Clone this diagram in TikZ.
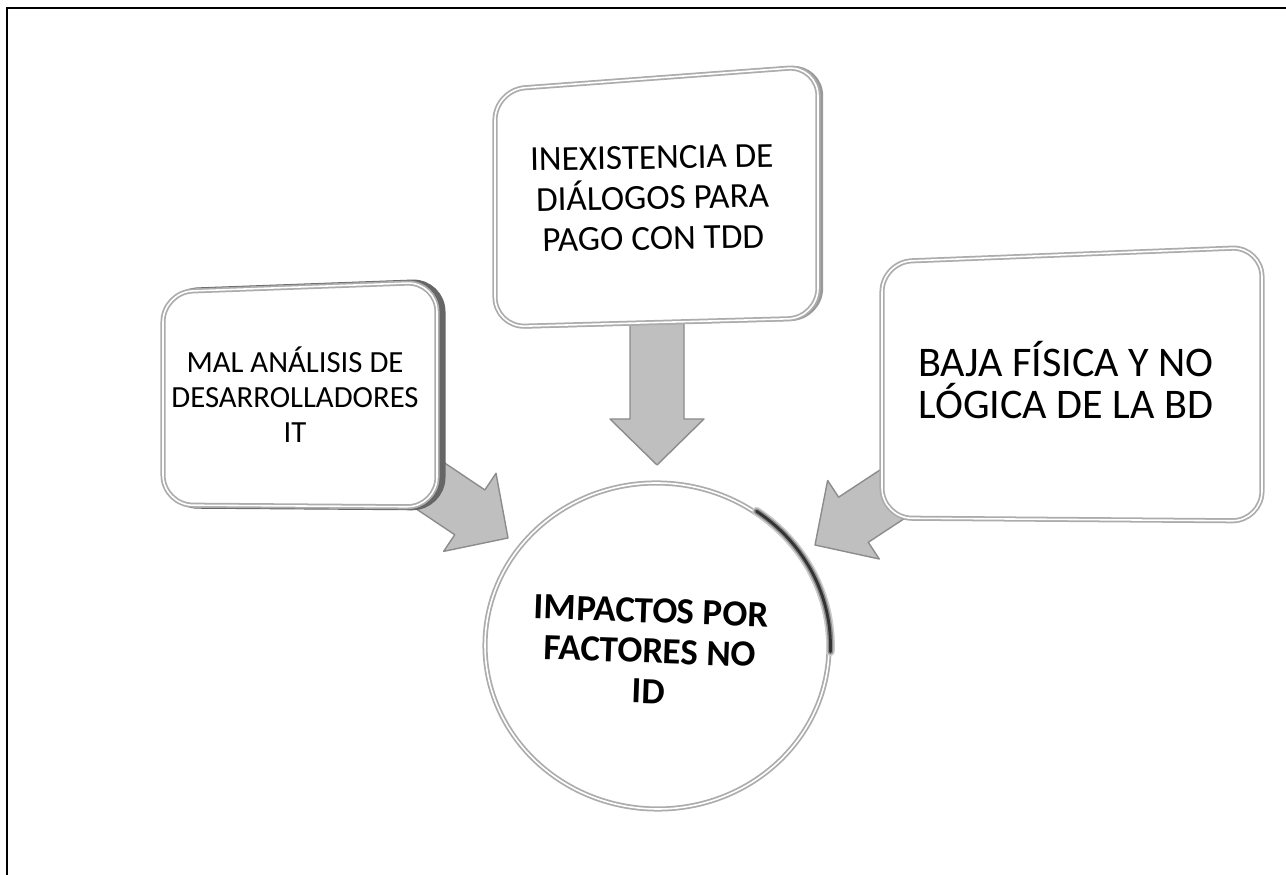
\documentclass[tikz,border=0pt]{standalone}
\usepackage{fontspec}
\setmainfont{Carlito}
\usetikzlibrary{calc,shapes.geometric}

\newcommand{\malbox}{(3.26,11.66) -- (8.74,11.86) -- (8.74,7.36) -- (3.26,7.40) -- cycle}
\newcommand{\inexbox}{(9.90,15.70) -- (16.36,16.18) -- (16.36,11.14) -- (9.90,10.96) -- cycle}
\newcommand{\bajabox}{(17.64,12.26) -- (25.24,12.56) -- (25.24,7.08) -- (17.64,7.14) -- cycle}

\begin{document}
\begin{tikzpicture}
	\path [use as bounding box] (0,0) rectangle (25.72,17.5);
	\tikzstyle{boxline} = [draw=gray!65, double=white, double distance=0.9pt, line width=1pt, fill=white, rounded corners=0.6cm]
	\tikzstyle{boxshade} = [draw=black!60, line width=4pt, rounded corners=0.6cm]
	\tikzstyle{boxtext} = [align=center, inner sep=0pt]
	\tikzstyle{bigarrow} = [draw=gray!90, fill=gray!50, line width=0.8pt, line join=round,
		to path={let \p1 = ($(\tikztotarget)!0.92cm!(\tikztostart)$) in
			($(\tikztostart)!0.54cm!90:(\tikztotarget)$) -- ($(\p1)!0.54cm!90:(\tikztotarget)$)
			-- ($(\p1)!0.94cm!90:(\tikztotarget)$) -- (\tikztotarget)
			-- ($(\p1)!0.94cm!-90:(\tikztotarget)$) -- ($(\p1)!0.54cm!-90:(\tikztotarget)$)
			-- ($(\tikztostart)!0.54cm!-90:(\tikztotarget)$) -- cycle}]
	% frame
	\draw[line width=1.4pt] (0.14,0) -- (0.14,17.34) -- (25.72,17.34);
	\coordinate (L) at (5.90,9.60);
	\coordinate (T) at (13.05,13.54);
	\coordinate (R) at (21.32,9.90);
	\coordinate (tipL) at (10.16,6.74);
	\coordinate (tipT) at (13.14,8.20);
	\coordinate (tipR) at (16.30,6.60);
	\node[ellipse, boxline, minimum width=6.88cm, minimum height=6.52cm, rotate=-2] (C) at (13.14,4.58) {};
	% dark rim on the upper right of the circle
	\foreach \w/\c in {5pt/black!20, 3.2pt/black!45, 1.6pt/black!80}
		\draw[\c, line width=\w, line cap=round] ([shift={(-2:3.47cm and 3.29cm)}]C.center)
			arc[start angle=-2, end angle=55, x radius=3.47cm, y radius=3.29cm];
	\node[boxtext, font=\bfseries\fontsize{21}{23}\selectfont, rotate=-2] (impact) at (13.00,4.48) {IMPACTOS POR\\FACTORES NO\\ID};
	% arrows
	\draw[bigarrow] (L) to (tipL);
	\draw[bigarrow] (tipT |- T) to (tipT);
	\draw[bigarrow] (R) to (tipR);
	% boxes
	\draw[boxshade, xshift=0.1cm] \malbox;
	\draw[boxline] \malbox;
	\draw[boxshade, line width=2.5pt, draw=black!40, xshift=0.06cm] \inexbox;
	\draw[boxline] \inexbox;
	\draw[boxline] \bajabox;
	\node[boxtext, font=\fontsize{17.5}{20}\selectfont] (mal) at (L) {MAL ANÁLISIS DE\\DESARROLLADORES\\IT};
	\node[boxtext, font=\fontsize{20}{23}\selectfont, rotate=1] (inex) at (T) {INEXISTENCIA DE\\DIÁLOGOS PARA\\PAGO CON TDD};
	\node[boxtext, font=\fontsize{24}{24}\selectfont] (baja) at (R) {BAJA FÍSICA Y NO\\LÓGICA DE LA BD};
\end{tikzpicture}
\end{document}
